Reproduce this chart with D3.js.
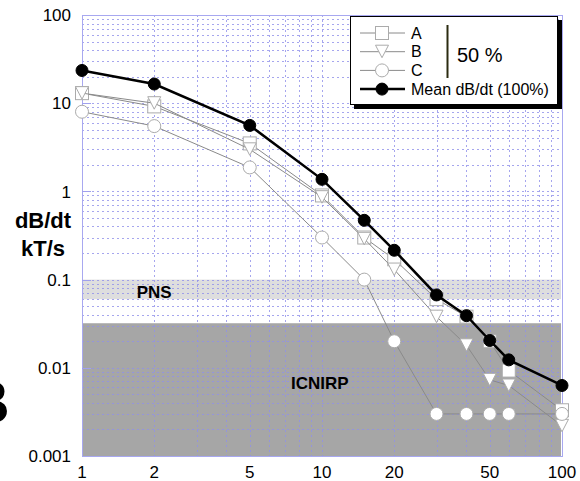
<!DOCTYPE html>
<html>
<head>
<meta charset="utf-8">
<script src="https://cdn.jsdelivr.net/npm/d3@7"></script>
<style>
  body { margin: 0; background: #fff; }
  svg { display: block; font-family: Arial, "Liberation Sans", sans-serif; }
</style>
</head>
<body>
<svg></svg>
<script>
const size = {w: 580, h: 481};
const plot = {l: 82, r: 562, t: 15, b: 456};

// data
const xVals = [1, 2, 5, 10, 15, 20, 30, 40, 50, 60, 100];
const seriesA = [13, 9.2, 3.5, 0.9, 0.3, 0.17, 0.06, 0.038, 0.02, 0.0093, 0.0033];
const seriesB = [13, 10, 3.0, 0.86, 0.29, 0.13, 0.038, 0.018, 0.0073, 0.0063, 0.0022];
const seriesC = [8, 5.5, 1.87, 0.3, 0.1, 0.02, 0.003, 0.003, 0.003, 0.003, 0.003];
const meanVals = [23.5, 16.5, 5.6, 1.37, 0.47, 0.215, 0.067, 0.039, 0.0204, 0.0123, 0.0063];

const xTicks = [1, 2, 5, 10, 20, 50, 100];
const yTicks = [100, 10, 1, 0.1, 0.01, 0.001];
const bands = [
    {name: 'PNS', lo: 0.06, hi: 0.1, labelX: 2.0, labelY: 0.072},
    {name: 'ICNIRP', lo: 0.001, hi: 0.032, labelX: 9.8, labelY: 0.0067}
];

const svg = d3.select('svg')
    .attr('width', size.w)
    .attr('height', size.h);

const x = d3.scaleLog().domain([1, 100]).range([plot.l, plot.r]);
const y = d3.scaleLog().domain([0.001, 100]).range([plot.b, plot.t]);

// gray zones
svg.append('g').selectAll('rect')
    .data(bands)
    .join('rect')
    .attr('x', plot.l)
    .attr('width', plot.r - plot.l - 1)
    .attr('y', d => y(d.hi))
    .attr('height', d => y(d.lo) - y(d.hi))
    .attr('fill', d => d.name === 'PNS' ? '#dedede' : '#a6a6a6');

// minor grid, every 1..9 of each decade
let gridVals = [];
[0.001, 0.01, 0.1, 1, 10].forEach(dec => {
    for (let k = 1; k < 10; k++) gridVals.push(+(dec * k).toPrecision(3));
});
const xGrid = gridVals.filter(v => v > 1 && v < 100);
const yGrid = gridVals.filter(v => v > 0.001 && v < 100);

const grid = svg.append('g')
    .attr('stroke', '#9090ea')
    .attr('stroke-width', 1)
    .attr('stroke-opacity', 0.8)
    .attr('stroke-dasharray', '2,3');
grid.selectAll('line.v')
    .data(xGrid)
    .join('line')
    .classed('v', true)
    .attr('x1', d => Math.round(x(d)) + 0.5)
    .attr('x2', d => Math.round(x(d)) + 0.5)
    .attr('y1', plot.t)
    .attr('y2', plot.b);
grid.selectAll('line.h')
    .data(yGrid)
    .join('line')
    .classed('h', true)
    .attr('y1', d => Math.round(y(d)) + 0.5)
    .attr('y2', d => Math.round(y(d)) + 0.5)
    .attr('x1', plot.l)
    .attr('x2', plot.r);

// frame
svg.append('rect')
    .attr('x', plot.l + 0.5)
    .attr('y', plot.t + 0.5)
    .attr('width', plot.r - plot.l)
    .attr('height', plot.b - plot.t)
    .attr('fill', 'none')
    .attr('stroke', '#a8a8f0');

// short major ticks inside the frame
svg.append('g').selectAll('line')
    .data(yTicks.slice(1, -1))
    .join('line')
    .attr('x1', plot.l)
    .attr('x2', plot.l + 9)
    .attr('y1', d => Math.round(y(d)) + 0.5)
    .attr('y2', d => Math.round(y(d)) + 0.5)
    .attr('stroke', '#a0a0ee');

// zone labels
svg.append('g').selectAll('text')
    .data(bands)
    .join('text')
    .attr('x', d => x(d.labelX))
    .attr('y', d => y(d.labelY))
    .attr('dy', '0.35em')
    .attr('text-anchor', 'middle')
    .attr('font-size', 17)
    .attr('font-weight', 'bold')
    .text(d => d.name);

// axes labels
svg.append('g').selectAll('text')
    .data(xTicks)
    .join('text')
    .attr('x', d => x(d))
    .attr('y', 478)
    .attr('text-anchor', 'middle')
    .attr('font-size', 17)
    .text(d => d);

svg.append('g').selectAll('text')
    .data(yTicks)
    .join('text')
    .attr('x', 71)
    .attr('y', d => y(d))
    .attr('dy', '0.36em')
    .attr('text-anchor', 'end')
    .attr('font-size', 17)
    .text(d => d);

svg.append('text')
    .attr('x', 43).attr('y', 228)
    .attr('text-anchor', 'middle')
    .attr('font-size', 22).attr('font-weight', 'bold')
    .text('dB/dt');
svg.append('text')
    .attr('x', 43).attr('y', 256)
    .attr('text-anchor', 'middle')
    .attr('font-size', 22).attr('font-weight', 'bold')
    .text('kT/s');

// cut-off panel letter
svg.append('text')
    .attr('x', -35).attr('y', 423)
    .attr('font-size', 62).attr('font-weight', 'bold')
    .text('B');

// markers
const markers = {
    square: g => g.append('rect').attr('x', -6.5).attr('y', -6.5).attr('width', 13).attr('height', 13),
    triangle: g => g.append('path').attr('d', 'M-6.5,-6.5L6.5,-6.5L0,6Z'),
    circle: g => g.append('circle').attr('r', 6.5),
    dot: g => g.append('circle').attr('r', 6)
};

const series = [
    {name: 'A', vals: seriesA, marker: 'square', color: '#8a8a8a', mark: '#ababab', width: 1, fill: '#fff'},
    {name: 'B', vals: seriesB, marker: 'triangle', color: '#8a8a8a', mark: '#ababab', width: 1, fill: '#fff'},
    {name: 'C', vals: seriesC, marker: 'circle', color: '#8a8a8a', mark: '#ababab', width: 1, fill: '#fff'},
    {name: 'Mean dB/dt (100%)', vals: meanVals, marker: 'dot', color: '#000', mark: '#000', width: 2.5, fill: '#000'}
];

const line = d3.line()
    .x(d => x(d[0]))
    .y(d => y(d[1]));

series.forEach(s => {
    let pts = xVals.map((v, i) => [v, s.vals[i]]);
    let g = svg.append('g');
    g.append('path')
        .attr('d', line(pts))
        .attr('fill', 'none')
        .attr('stroke', s.color)
        .attr('stroke-width', s.width);
    g.selectAll('g')
        .data(pts)
        .join('g')
        .attr('transform', d => `translate(${x(d[0])},${y(d[1])})`)
        .each(function() {
            markers[s.marker](d3.select(this))
                .attr('fill', s.fill)
                .attr('stroke', s.mark)
                .attr('stroke-width', 1);
        });
});

// legend
const lg = svg.append('g').attr('transform', 'translate(350,16)');
lg.append('rect').attr('x', 4).attr('y', 4).attr('width', 208).attr('height', 89).attr('fill', '#000');
lg.append('rect').attr('x', 0.5).attr('y', 0.5).attr('width', 207).attr('height', 88)
    .attr('fill', '#fff').attr('stroke', '#000');

const rows = lg.selectAll('g.row')
    .data(series)
    .join('g')
    .classed('row', true)
    .attr('transform', (d, i) => `translate(0,${17 + i * 18.7})`);
rows.append('line')
    .attr('x1', 10).attr('x2', 55)
    .attr('stroke', d => d.color)
    .attr('stroke-width', d => d.width);
rows.each(function(s) {
    let m = d3.select(this).append('g').attr('transform', 'translate(32,0)');
    markers[s.marker](m)
        .attr('fill', s.fill)
        .attr('stroke', s.mark);
});
rows.append('text')
    .attr('x', 61)
    .attr('dy', '0.36em')
    .attr('font-size', 16)
    .text(d => d.name);

lg.append('line')
    .attr('x1', 97.5).attr('x2', 97.5)
    .attr('y1', 9).attr('y2', 62)
    .attr('stroke', '#2b2b10').attr('stroke-width', 2);
lg.append('text')
    .attr('x', 107).attr('y', 46)
    .attr('font-size', 20)
    .text('50 %');
</script>
</body>
</html>
